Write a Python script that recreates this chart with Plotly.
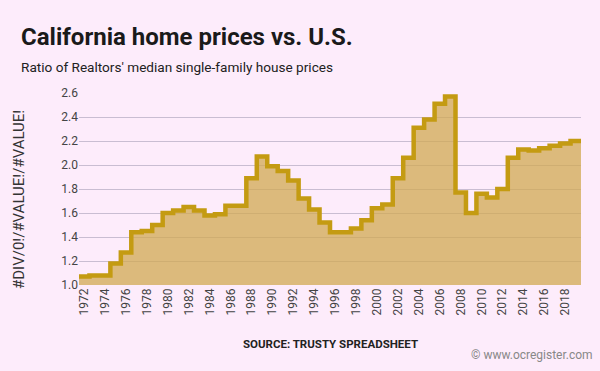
import plotly.graph_objects as go

years = list(range(1972, 2020))
ratio = [1.07, 1.08, 1.08, 1.18, 1.27, 1.44, 1.45, 1.50, 1.60, 1.62,
         1.65, 1.62, 1.58, 1.59, 1.66, 1.66, 1.89, 2.07, 1.99, 1.95,
         1.87, 1.72, 1.63, 1.52, 1.44, 1.44, 1.47, 1.54, 1.64, 1.67,
         1.89, 2.06, 2.31, 2.38, 2.51, 2.57, 1.77, 1.60, 1.76, 1.73,
         1.80, 2.06, 2.13, 2.12, 2.14, 2.16, 2.18, 2.20]

title = "California home prices vs. U.S."
subtitle = "Ratio of Realtors' median single-family house prices"
y_title = "#DIV/0!/#VALUE!/#VALUE!"
source = "SOURCE: TRUSTY SPREADSHEET"
credit = "© www.ocregister.com"

# step edges: each year occupies a band centred on the year
x_edges = [y - 0.5 for y in years] + [years[-1] + 0.5]
y_steps = ratio + [ratio[-1]]

W, H = 600, 371
L, R, T, B = 79, 19, 93, 86
pw, ph = W - L - R, H - T - B

def px(x):
    return (x - L) / pw

def py(y):
    return (H - B - y) / ph

fig = go.Figure()
fig.add_trace(go.Scatter(
    x=x_edges, y=y_steps, mode="lines", line_shape="hv",
    line=dict(color="#c49b12", width=4.5),
    fill="tozeroy", fillcolor="rgba(208,170,82,0.75)",
    hoverinfo="skip", showlegend=False,
))

font = "Roboto, 'Open Sans', sans-serif"
fig.update_layout(
    width=W, height=H,
    margin=dict(l=L, r=R, t=T, b=B),
    paper_bgcolor="#fdecfb", plot_bgcolor="#fdecfb",
    font=dict(family=font, size=12, color="#444"),
    xaxis=dict(range=[1971.5, 2019.5], tick0=1972, dtick=2, tickangle=-90,
               showgrid=False, zeroline=False, showline=False,
               tickfont=dict(size=12, color="#444"), ticks="", fixedrange=True),
    yaxis=dict(range=[1.0, 2.6], dtick=0.2, tickformat=".1f",
               showgrid=True, gridcolor="#c9bdd2", gridwidth=1,
               zeroline=False, showline=False, ticks="",
               tickfont=dict(size=12, color="#444"),
               fixedrange=True),
    annotations=[
        dict(text="<b>" + title + "</b>", x=px(19), y=py(21), xref="paper", yref="paper",
             xanchor="left", yanchor="top", showarrow=False,
             font=dict(size=24, color="#1a1a1a", family=font)),
        dict(text=subtitle, x=px(19), y=py(57), xref="paper", yref="paper",
             xanchor="left", yanchor="top", showarrow=False,
             font=dict(size=13.6, color="#222", family=font)),
        dict(text=y_title, x=px(19), y=py(200), xref="paper", yref="paper",
             xanchor="center", yanchor="middle", textangle=-90, showarrow=False,
             font=dict(size=15, color="#333", family=font)),
        dict(text="<b>" + source + "</b>", x=px(330), y=py(344), xref="paper", yref="paper",
             xanchor="center", yanchor="middle", showarrow=False,
             font=dict(size=11.5, color="#222", family=font)),
        dict(text=credit, x=px(595), y=py(355), xref="paper", yref="paper",
             xanchor="right", yanchor="middle", showarrow=False,
             font=dict(size=12, color="#888", family=font)),
    ],
)

fig.write_html("out.html", config={"displayModeBar": False},
               post_script="document.body.style.margin='0';")
